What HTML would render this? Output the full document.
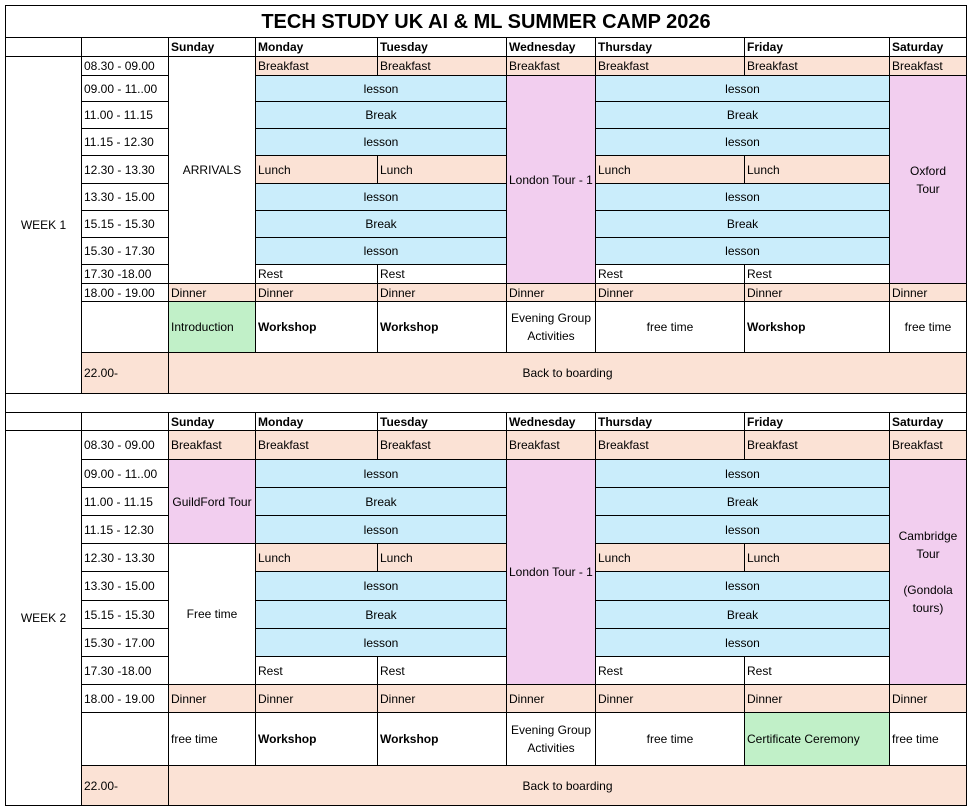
<!DOCTYPE html>
<html><head><meta charset="utf-8"><style>
body{margin:0;width:970px;height:809px;background:#fff;position:relative;overflow:hidden;font-family:"Liberation Sans",sans-serif;font-size:12px;color:#000}
.c{position:absolute;box-sizing:border-box;border:1px solid #000;display:flex;align-items:center;justify-content:center;text-align:center;line-height:18px;overflow:hidden;white-space:nowrap}
.l{justify-content:flex-start;text-align:left;padding-left:2px}
.b{font-weight:bold}
.p{background:#FBE2D5}.u{background:#CAEDFB}.k{background:#F2CEEF}.g{background:#C1F0C8}
.w{white-space:normal}
</style></head><body>
<div class="c b" style="left:5px;top:5px;width:962px;height:33px;font-size:20px">TECH STUDY UK AI &amp; ML SUMMER CAMP 2026</div>

<div class="c" style="left:5px;top:37px;width:77px;height:20px"></div>
<div class="c" style="left:81px;top:37px;width:88px;height:20px"></div>
<div class="c l b" style="left:168px;top:37px;width:88px;height:20px">Sunday</div>
<div class="c l b" style="left:255px;top:37px;width:123px;height:20px">Monday</div>
<div class="c l b" style="left:377px;top:37px;width:130px;height:20px">Tuesday</div>
<div class="c l b" style="left:506px;top:37px;width:90px;height:20px">Wednesday</div>
<div class="c l b" style="left:595px;top:37px;width:150px;height:20px">Thursday</div>
<div class="c l b" style="left:744px;top:37px;width:146px;height:20px">Friday</div>
<div class="c l b" style="left:889px;top:37px;width:78px;height:20px">Saturday</div>

<div class="c" style="left:5px;top:56px;width:77px;height:338px">WEEK 1</div>
<div class="c l" style="left:81px;top:56px;width:88px;height:20px">08.30 - 09.00</div>
<div class="c l" style="left:81px;top:75px;width:88px;height:27px">09.00 - 11..00</div>
<div class="c l" style="left:81px;top:101px;width:88px;height:28px">11.00 - 11.15</div>
<div class="c l" style="left:81px;top:128px;width:88px;height:28px">11.15 - 12.30</div>
<div class="c l" style="left:81px;top:155px;width:88px;height:29px">12.30 - 13.30</div>
<div class="c l" style="left:81px;top:183px;width:88px;height:28px">13.30 - 15.00</div>
<div class="c l" style="left:81px;top:210px;width:88px;height:28px">15.15 - 15.30</div>
<div class="c l" style="left:81px;top:237px;width:88px;height:28px">15.30 - 17.30</div>
<div class="c l" style="left:81px;top:264px;width:88px;height:20px">17.30 -18.00</div>
<div class="c l" style="left:81px;top:283px;width:88px;height:19px">18.00 - 19.00</div>
<div class="c" style="left:81px;top:301px;width:88px;height:52px"></div>
<div class="c l p" style="left:81px;top:352px;width:88px;height:42px">22.00-</div>

<div class="c" style="left:168px;top:56px;width:88px;height:228px">ARRIVALS</div>
<div class="c l p" style="left:168px;top:283px;width:88px;height:19px">Dinner</div>
<div class="c l g" style="left:168px;top:301px;width:88px;height:52px">Introduction</div>
<div class="c p" style="left:168px;top:352px;width:799px;height:42px">Back to boarding</div>

<div class="c l p" style="left:255px;top:56px;width:123px;height:20px">Breakfast</div>
<div class="c l p" style="left:377px;top:56px;width:130px;height:20px">Breakfast</div>
<div class="c u" style="left:255px;top:75px;width:252px;height:27px">lesson</div>
<div class="c u" style="left:255px;top:101px;width:252px;height:28px">Break</div>
<div class="c u" style="left:255px;top:128px;width:252px;height:28px">lesson</div>
<div class="c l p" style="left:255px;top:155px;width:123px;height:29px">Lunch</div>
<div class="c l p" style="left:377px;top:155px;width:130px;height:29px">Lunch</div>
<div class="c u" style="left:255px;top:183px;width:252px;height:28px">lesson</div>
<div class="c u" style="left:255px;top:210px;width:252px;height:28px">Break</div>
<div class="c u" style="left:255px;top:237px;width:252px;height:28px">lesson</div>
<div class="c l" style="left:255px;top:264px;width:123px;height:20px">Rest</div>
<div class="c l" style="left:377px;top:264px;width:130px;height:20px">Rest</div>
<div class="c l p" style="left:255px;top:283px;width:123px;height:19px">Dinner</div>
<div class="c l p" style="left:377px;top:283px;width:130px;height:19px">Dinner</div>
<div class="c l b" style="left:255px;top:301px;width:123px;height:52px">Workshop</div>
<div class="c l b" style="left:377px;top:301px;width:130px;height:52px">Workshop</div>

<div class="c l p" style="left:506px;top:56px;width:90px;height:20px">Breakfast</div>
<div class="c l k" style="left:506px;top:75px;width:90px;height:209px">London Tour - 1</div>
<div class="c l p" style="left:506px;top:283px;width:90px;height:19px">Dinner</div>
<div class="c w" style="left:506px;top:301px;width:90px;height:52px">Evening Group Activities</div>

<div class="c l p" style="left:595px;top:56px;width:150px;height:20px">Breakfast</div>
<div class="c l p" style="left:744px;top:56px;width:146px;height:20px">Breakfast</div>
<div class="c u" style="left:595px;top:75px;width:295px;height:27px">lesson</div>
<div class="c u" style="left:595px;top:101px;width:295px;height:28px">Break</div>
<div class="c u" style="left:595px;top:128px;width:295px;height:28px">lesson</div>
<div class="c l p" style="left:595px;top:155px;width:150px;height:29px">Lunch</div>
<div class="c l p" style="left:744px;top:155px;width:146px;height:29px">Lunch</div>
<div class="c u" style="left:595px;top:183px;width:295px;height:28px">lesson</div>
<div class="c u" style="left:595px;top:210px;width:295px;height:28px">Break</div>
<div class="c u" style="left:595px;top:237px;width:295px;height:28px">lesson</div>
<div class="c l" style="left:595px;top:264px;width:150px;height:20px">Rest</div>
<div class="c l" style="left:744px;top:264px;width:146px;height:20px">Rest</div>
<div class="c l p" style="left:595px;top:283px;width:150px;height:19px">Dinner</div>
<div class="c l p" style="left:744px;top:283px;width:146px;height:19px">Dinner</div>
<div class="c" style="left:595px;top:301px;width:150px;height:52px">free time</div>
<div class="c l b" style="left:744px;top:301px;width:146px;height:52px">Workshop</div>

<div class="c l p" style="left:889px;top:56px;width:78px;height:20px">Breakfast</div>
<div class="c k w" style="left:889px;top:75px;width:78px;height:209px">Oxford<br>Tour</div>
<div class="c l p" style="left:889px;top:283px;width:78px;height:19px">Dinner</div>
<div class="c" style="left:889px;top:301px;width:78px;height:52px">free time</div>

<div class="c" style="left:5px;top:393px;width:962px;height:20px"></div>

<div class="c" style="left:5px;top:412px;width:77px;height:19px"></div>
<div class="c" style="left:81px;top:412px;width:88px;height:19px"></div>
<div class="c l b" style="left:168px;top:412px;width:88px;height:19px">Sunday</div>
<div class="c l b" style="left:255px;top:412px;width:123px;height:19px">Monday</div>
<div class="c l b" style="left:377px;top:412px;width:130px;height:19px">Tuesday</div>
<div class="c l b" style="left:506px;top:412px;width:90px;height:19px">Wednesday</div>
<div class="c l b" style="left:595px;top:412px;width:150px;height:19px">Thursday</div>
<div class="c l b" style="left:744px;top:412px;width:146px;height:19px">Friday</div>
<div class="c l b" style="left:889px;top:412px;width:78px;height:19px">Saturday</div>

<div class="c" style="left:5px;top:430px;width:77px;height:376px">WEEK 2</div>
<div class="c l" style="left:81px;top:430px;width:88px;height:30px">08.30 - 09.00</div>
<div class="c l" style="left:81px;top:459px;width:88px;height:29px">09.00 - 11..00</div>
<div class="c l" style="left:81px;top:487px;width:88px;height:29px">11.00 - 11.15</div>
<div class="c l" style="left:81px;top:515px;width:88px;height:29px">11.15 - 12.30</div>
<div class="c l" style="left:81px;top:543px;width:88px;height:29px">12.30 - 13.30</div>
<div class="c l" style="left:81px;top:571px;width:88px;height:30px">13.30 - 15.00</div>
<div class="c l" style="left:81px;top:600px;width:88px;height:29px">15.15 - 15.30</div>
<div class="c l" style="left:81px;top:628px;width:88px;height:29px">15.30 - 17.00</div>
<div class="c l" style="left:81px;top:656px;width:88px;height:29px">17.30 -18.00</div>
<div class="c l" style="left:81px;top:684px;width:88px;height:29px">18.00 - 19.00</div>
<div class="c" style="left:81px;top:712px;width:88px;height:54px"></div>
<div class="c l p" style="left:81px;top:765px;width:88px;height:41px">22.00-</div>

<div class="c l p" style="left:168px;top:430px;width:88px;height:30px">Breakfast</div>
<div class="c k" style="left:168px;top:459px;width:88px;height:85px">GuildFord Tour</div>
<div class="c" style="left:168px;top:543px;width:88px;height:142px">Free time</div>
<div class="c l p" style="left:168px;top:684px;width:88px;height:29px">Dinner</div>
<div class="c l" style="left:168px;top:712px;width:88px;height:54px">free time</div>
<div class="c p" style="left:168px;top:765px;width:799px;height:41px">Back to boarding</div>

<div class="c l p" style="left:255px;top:430px;width:123px;height:30px">Breakfast</div>
<div class="c l p" style="left:377px;top:430px;width:130px;height:30px">Breakfast</div>
<div class="c u" style="left:255px;top:459px;width:252px;height:29px">lesson</div>
<div class="c u" style="left:255px;top:487px;width:252px;height:29px">Break</div>
<div class="c u" style="left:255px;top:515px;width:252px;height:29px">lesson</div>
<div class="c l p" style="left:255px;top:543px;width:123px;height:29px">Lunch</div>
<div class="c l p" style="left:377px;top:543px;width:130px;height:29px">Lunch</div>
<div class="c u" style="left:255px;top:571px;width:252px;height:30px">lesson</div>
<div class="c u" style="left:255px;top:600px;width:252px;height:29px">Break</div>
<div class="c u" style="left:255px;top:628px;width:252px;height:29px">lesson</div>
<div class="c l" style="left:255px;top:656px;width:123px;height:29px">Rest</div>
<div class="c l" style="left:377px;top:656px;width:130px;height:29px">Rest</div>
<div class="c l p" style="left:255px;top:684px;width:123px;height:29px">Dinner</div>
<div class="c l p" style="left:377px;top:684px;width:130px;height:29px">Dinner</div>
<div class="c l b" style="left:255px;top:712px;width:123px;height:54px">Workshop</div>
<div class="c l b" style="left:377px;top:712px;width:130px;height:54px">Workshop</div>

<div class="c l p" style="left:506px;top:430px;width:90px;height:30px">Breakfast</div>
<div class="c l k" style="left:506px;top:459px;width:90px;height:226px">London Tour - 1</div>
<div class="c l p" style="left:506px;top:684px;width:90px;height:29px">Dinner</div>
<div class="c w" style="left:506px;top:712px;width:90px;height:54px">Evening Group Activities</div>

<div class="c l p" style="left:595px;top:430px;width:150px;height:30px">Breakfast</div>
<div class="c l p" style="left:744px;top:430px;width:146px;height:30px">Breakfast</div>
<div class="c u" style="left:595px;top:459px;width:295px;height:29px">lesson</div>
<div class="c u" style="left:595px;top:487px;width:295px;height:29px">Break</div>
<div class="c u" style="left:595px;top:515px;width:295px;height:29px">lesson</div>
<div class="c l p" style="left:595px;top:543px;width:150px;height:29px">Lunch</div>
<div class="c l p" style="left:744px;top:543px;width:146px;height:29px">Lunch</div>
<div class="c u" style="left:595px;top:571px;width:295px;height:30px">lesson</div>
<div class="c u" style="left:595px;top:600px;width:295px;height:29px">Break</div>
<div class="c u" style="left:595px;top:628px;width:295px;height:29px">lesson</div>
<div class="c l" style="left:595px;top:656px;width:150px;height:29px">Rest</div>
<div class="c l" style="left:744px;top:656px;width:146px;height:29px">Rest</div>
<div class="c l p" style="left:595px;top:684px;width:150px;height:29px">Dinner</div>
<div class="c l p" style="left:744px;top:684px;width:146px;height:29px">Dinner</div>
<div class="c" style="left:595px;top:712px;width:150px;height:54px">free time</div>
<div class="c l g" style="left:744px;top:712px;width:146px;height:54px">Certificate Ceremony</div>

<div class="c l p" style="left:889px;top:430px;width:78px;height:30px">Breakfast</div>
<div class="c k w" style="left:889px;top:459px;width:78px;height:226px">Cambridge Tour<br><br>(Gondola tours)</div>
<div class="c l p" style="left:889px;top:684px;width:78px;height:29px">Dinner</div>
<div class="c l" style="left:889px;top:712px;width:78px;height:54px">free time</div>
</body></html>
